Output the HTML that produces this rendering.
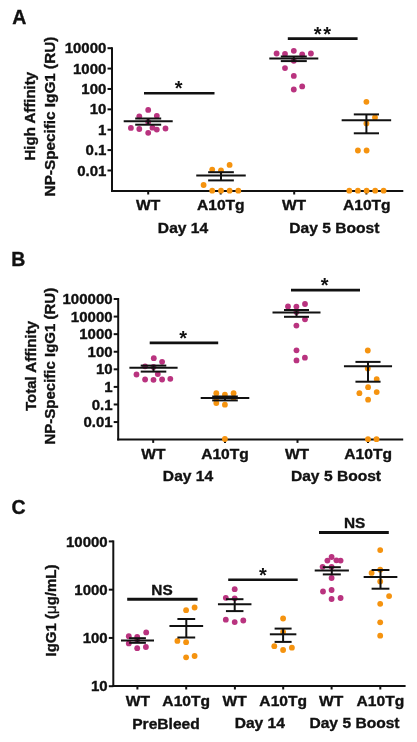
<!DOCTYPE html>
<html><head><meta charset="utf-8"><style>
html,body{margin:0;padding:0;background:#fff;width:417px;height:742px;overflow:hidden}
svg{display:block;will-change:transform}
text{font-family:"Liberation Sans",sans-serif;font-weight:bold;fill:#111;stroke:#111;stroke-width:0.35px}
</style></head><body>
<svg width="417" height="742" viewBox="0 0 417 742">
<text transform="translate(19.4,23.5) scale(1,1)" font-size="19.5" text-anchor="middle" >A</text>
<line x1="112" y1="47.2" x2="112" y2="192" stroke="#111" stroke-width="2"/>
<line x1="107.5" y1="48.2" x2="112" y2="48.2" stroke="#111" stroke-width="2"/>
<text transform="translate(106.4,53.300000000000004) scale(1.05,1)" font-size="14.3" text-anchor="end">10000</text>
<line x1="107.5" y1="68.58" x2="112" y2="68.58" stroke="#111" stroke-width="2"/>
<text transform="translate(106.4,73.67999999999999) scale(1.05,1)" font-size="14.3" text-anchor="end">1000</text>
<line x1="107.5" y1="88.96000000000001" x2="112" y2="88.96000000000001" stroke="#111" stroke-width="2"/>
<text transform="translate(106.4,94.06) scale(1.05,1)" font-size="14.3" text-anchor="end">100</text>
<line x1="107.5" y1="109.34" x2="112" y2="109.34" stroke="#111" stroke-width="2"/>
<text transform="translate(106.4,114.44) scale(1.05,1)" font-size="14.3" text-anchor="end">10</text>
<line x1="107.5" y1="129.72" x2="112" y2="129.72" stroke="#111" stroke-width="2"/>
<text transform="translate(106.4,134.82) scale(1.05,1)" font-size="14.3" text-anchor="end">1</text>
<line x1="107.5" y1="150.1" x2="112" y2="150.1" stroke="#111" stroke-width="2"/>
<text transform="translate(106.4,155.2) scale(1.05,1)" font-size="14.3" text-anchor="end">0.1</text>
<line x1="107.5" y1="170.48000000000002" x2="112" y2="170.48000000000002" stroke="#111" stroke-width="2"/>
<text transform="translate(106.4,175.58) scale(1.05,1)" font-size="14.3" text-anchor="end">0.01</text>
<line x1="111" y1="191" x2="403.3" y2="191" stroke="#111" stroke-width="2"/>
<line x1="148.2" y1="191" x2="148.2" y2="194.5" stroke="#111" stroke-width="2"/>
<line x1="220.7" y1="191" x2="220.7" y2="194.5" stroke="#111" stroke-width="2"/>
<line x1="294.2" y1="191" x2="294.2" y2="194.5" stroke="#111" stroke-width="2"/>
<line x1="366.4" y1="191" x2="366.4" y2="194.5" stroke="#111" stroke-width="2"/>
<text transform="translate(35,116.2) rotate(-90)" font-size="15" text-anchor="middle">High Affinity</text>
<text transform="translate(55,116.5) rotate(-90)" font-size="15.3" text-anchor="middle">NP-Specific IgG1 (RU)</text>
<text transform="translate(148.2,210) scale(1.04,1)" font-size="15" text-anchor="middle" >WT</text>
<text transform="translate(220.8,210) scale(1.04,1)" font-size="15" text-anchor="middle" >A10Tg</text>
<text transform="translate(294,210) scale(1.04,1)" font-size="15" text-anchor="middle" >WT</text>
<text transform="translate(366.8,210) scale(1.04,1)" font-size="15" text-anchor="middle" >A10Tg</text>
<text transform="translate(183,233) scale(1.04,1)" font-size="15" text-anchor="middle" >Day 14</text>
<text transform="translate(334.4,232.6) scale(1.04,1)" font-size="15" text-anchor="middle" >Day 5 Boost</text>
<circle cx="148.2" cy="109.9" r="2.9" fill="#b9337f"/>
<circle cx="139.3" cy="116.3" r="2.9" fill="#b9337f"/>
<circle cx="156.8" cy="115.8" r="2.9" fill="#b9337f"/>
<circle cx="130.9" cy="127.9" r="2.9" fill="#b9337f"/>
<circle cx="139.3" cy="129" r="2.9" fill="#b9337f"/>
<circle cx="148.2" cy="132.8" r="2.9" fill="#b9337f"/>
<circle cx="152.5" cy="127.7" r="2.9" fill="#b9337f"/>
<circle cx="156.8" cy="129.6" r="2.9" fill="#b9337f"/>
<circle cx="165.5" cy="128.5" r="2.9" fill="#b9337f"/>
<circle cx="148.2" cy="122" r="2.9" fill="#b9337f"/>
<line x1="123.69999999999999" y1="121.2" x2="172.7" y2="121.2" stroke="#111" stroke-width="2"/>
<line x1="135.2" y1="118.5" x2="161.2" y2="118.5" stroke="#111" stroke-width="2"/>
<line x1="135.2" y1="124.7" x2="161.2" y2="124.7" stroke="#111" stroke-width="2"/>
<line x1="148.2" y1="118.5" x2="148.2" y2="124.7" stroke="#111" stroke-width="2"/>
<circle cx="229.6" cy="164.9" r="2.9" fill="#f5930f"/>
<circle cx="212.2" cy="169.6" r="2.9" fill="#f5930f"/>
<circle cx="221" cy="170.5" r="2.9" fill="#f5930f"/>
<circle cx="203.6" cy="185" r="2.9" fill="#f5930f"/>
<circle cx="212.2" cy="190.7" r="2.9" fill="#f5930f"/>
<circle cx="221" cy="190.7" r="2.9" fill="#f5930f"/>
<circle cx="229.6" cy="190.7" r="2.9" fill="#f5930f"/>
<circle cx="238.3" cy="190.7" r="2.9" fill="#f5930f"/>
<line x1="196.25" y1="175.5" x2="245.75" y2="175.5" stroke="#111" stroke-width="2"/>
<line x1="208.15" y1="172.2" x2="233.85" y2="172.2" stroke="#111" stroke-width="2"/>
<line x1="208.15" y1="180.4" x2="233.85" y2="180.4" stroke="#111" stroke-width="2"/>
<line x1="221" y1="172.2" x2="221" y2="180.4" stroke="#111" stroke-width="2"/>
<circle cx="276.6" cy="53.5" r="2.9" fill="#b9337f"/>
<circle cx="285" cy="53.9" r="2.9" fill="#b9337f"/>
<circle cx="293.8" cy="50.8" r="2.9" fill="#b9337f"/>
<circle cx="302.2" cy="54.5" r="2.9" fill="#b9337f"/>
<circle cx="310.9" cy="53.5" r="2.9" fill="#b9337f"/>
<circle cx="293.8" cy="60.8" r="2.9" fill="#b9337f"/>
<circle cx="285" cy="68.1" r="2.9" fill="#b9337f"/>
<circle cx="293.8" cy="75.9" r="2.9" fill="#b9337f"/>
<circle cx="302.2" cy="86.4" r="2.9" fill="#b9337f"/>
<circle cx="293.8" cy="89.5" r="2.9" fill="#b9337f"/>
<line x1="269.3" y1="58.5" x2="318.3" y2="58.5" stroke="#111" stroke-width="2"/>
<line x1="280.8" y1="56.5" x2="306.8" y2="56.5" stroke="#111" stroke-width="2"/>
<line x1="280.8" y1="61.1" x2="306.8" y2="61.1" stroke="#111" stroke-width="2"/>
<line x1="293.8" y1="56.5" x2="293.8" y2="61.1" stroke="#111" stroke-width="2"/>
<circle cx="366.4" cy="101.8" r="2.9" fill="#f5930f"/>
<circle cx="375" cy="117.5" r="2.9" fill="#f5930f"/>
<circle cx="366.4" cy="123.4" r="2.9" fill="#f5930f"/>
<circle cx="357.9" cy="150.5" r="2.9" fill="#f5930f"/>
<circle cx="366.6" cy="150.5" r="2.9" fill="#f5930f"/>
<circle cx="349.3" cy="190.7" r="2.9" fill="#f5930f"/>
<circle cx="357.9" cy="190.7" r="2.9" fill="#f5930f"/>
<circle cx="366.6" cy="190.7" r="2.9" fill="#f5930f"/>
<circle cx="375.2" cy="190.7" r="2.9" fill="#f5930f"/>
<circle cx="383.6" cy="190.7" r="2.9" fill="#f5930f"/>
<line x1="341.65" y1="120.2" x2="391.15" y2="120.2" stroke="#111" stroke-width="2"/>
<line x1="353.79999999999995" y1="114.4" x2="379.0" y2="114.4" stroke="#111" stroke-width="2"/>
<line x1="353.79999999999995" y1="133.3" x2="379.0" y2="133.3" stroke="#111" stroke-width="2"/>
<line x1="366.4" y1="114.4" x2="366.4" y2="133.3" stroke="#111" stroke-width="2"/>
<line x1="144" y1="93.3" x2="214.5" y2="93.3" stroke="#111" stroke-width="2.6"/>
<text x="178.7" y="95.2" font-size="20" text-anchor="middle" style="stroke-width:0" letter-spacing="0" dx="0">*</text>
<line x1="287.8" y1="38.6" x2="357.6" y2="38.6" stroke="#111" stroke-width="2.6"/>
<text x="322.4" y="40.7" font-size="20" text-anchor="middle" style="stroke-width:0" letter-spacing="1.6" dx="0.8">**</text>
<text transform="translate(18.2,265.6) scale(1,1)" font-size="19.5" text-anchor="middle" >B</text>
<line x1="118.2" y1="298" x2="118.2" y2="440.4" stroke="#111" stroke-width="2"/>
<line x1="113.7" y1="299.0" x2="118.2" y2="299.0" stroke="#111" stroke-width="2"/>
<text transform="translate(112.60000000000001,304.1) scale(1.05,1)" font-size="14.3" text-anchor="end">100000</text>
<line x1="113.7" y1="316.58" x2="118.2" y2="316.58" stroke="#111" stroke-width="2"/>
<text transform="translate(112.60000000000001,321.68) scale(1.05,1)" font-size="14.3" text-anchor="end">10000</text>
<line x1="113.7" y1="334.15999999999997" x2="118.2" y2="334.15999999999997" stroke="#111" stroke-width="2"/>
<text transform="translate(112.60000000000001,339.26) scale(1.05,1)" font-size="14.3" text-anchor="end">1000</text>
<line x1="113.7" y1="351.74" x2="118.2" y2="351.74" stroke="#111" stroke-width="2"/>
<text transform="translate(112.60000000000001,356.84000000000003) scale(1.05,1)" font-size="14.3" text-anchor="end">100</text>
<line x1="113.7" y1="369.32" x2="118.2" y2="369.32" stroke="#111" stroke-width="2"/>
<text transform="translate(112.60000000000001,374.42) scale(1.05,1)" font-size="14.3" text-anchor="end">10</text>
<line x1="113.7" y1="386.9" x2="118.2" y2="386.9" stroke="#111" stroke-width="2"/>
<text transform="translate(112.60000000000001,392.0) scale(1.05,1)" font-size="14.3" text-anchor="end">1</text>
<line x1="113.7" y1="404.48" x2="118.2" y2="404.48" stroke="#111" stroke-width="2"/>
<text transform="translate(112.60000000000001,409.58000000000004) scale(1.05,1)" font-size="14.3" text-anchor="end">0.1</text>
<line x1="113.7" y1="422.06" x2="118.2" y2="422.06" stroke="#111" stroke-width="2"/>
<text transform="translate(112.60000000000001,427.16) scale(1.05,1)" font-size="14.3" text-anchor="end">0.01</text>
<line x1="117.2" y1="439.4" x2="403.2" y2="439.4" stroke="#111" stroke-width="2"/>
<line x1="153.2" y1="439.4" x2="153.2" y2="442.9" stroke="#111" stroke-width="2"/>
<line x1="225" y1="439.4" x2="225" y2="442.9" stroke="#111" stroke-width="2"/>
<line x1="297.5" y1="439.4" x2="297.5" y2="442.9" stroke="#111" stroke-width="2"/>
<line x1="368" y1="439.4" x2="368" y2="442.9" stroke="#111" stroke-width="2"/>
<text transform="translate(35.5,366) rotate(-90)" font-size="15" text-anchor="middle">Total Affinity</text>
<text transform="translate(54.8,366.2) rotate(-90)" font-size="15" text-anchor="middle">NP-Specific IgG1 (RU)</text>
<text transform="translate(153.3,458.5) scale(1.04,1)" font-size="15" text-anchor="middle" >WT</text>
<text transform="translate(225,458.5) scale(1.04,1)" font-size="15" text-anchor="middle" >A10Tg</text>
<text transform="translate(297,458.5) scale(1.04,1)" font-size="15" text-anchor="middle" >WT</text>
<text transform="translate(368.1,458.5) scale(1.04,1)" font-size="15" text-anchor="middle" >A10Tg</text>
<text transform="translate(188,480.5) scale(1.04,1)" font-size="15" text-anchor="middle" >Day 14</text>
<text transform="translate(336,481) scale(1.04,1)" font-size="15" text-anchor="middle" >Day 5 Boost</text>
<circle cx="153.8" cy="358.2" r="2.9" fill="#b9337f"/>
<circle cx="162.1" cy="361.8" r="2.9" fill="#b9337f"/>
<circle cx="145.1" cy="366.3" r="2.9" fill="#b9337f"/>
<circle cx="136.5" cy="374.5" r="2.9" fill="#b9337f"/>
<circle cx="157.8" cy="374.1" r="2.9" fill="#b9337f"/>
<circle cx="145.1" cy="379.5" r="2.9" fill="#b9337f"/>
<circle cx="153.5" cy="379.8" r="2.9" fill="#b9337f"/>
<circle cx="162.1" cy="379.5" r="2.9" fill="#b9337f"/>
<circle cx="170.3" cy="378.8" r="2.9" fill="#b9337f"/>
<circle cx="153.5" cy="367" r="2.9" fill="#b9337f"/>
<line x1="129.4" y1="367.7" x2="177.6" y2="367.7" stroke="#111" stroke-width="2"/>
<line x1="140.7" y1="365.6" x2="166.3" y2="365.6" stroke="#111" stroke-width="2"/>
<line x1="140.7" y1="371.6" x2="166.3" y2="371.6" stroke="#111" stroke-width="2"/>
<line x1="153.5" y1="365.6" x2="153.5" y2="371.6" stroke="#111" stroke-width="2"/>
<circle cx="216.3" cy="393.2" r="2.9" fill="#f5930f"/>
<circle cx="224.9" cy="394.7" r="2.9" fill="#f5930f"/>
<circle cx="233.6" cy="393.2" r="2.9" fill="#f5930f"/>
<circle cx="216.3" cy="403" r="2.9" fill="#f5930f"/>
<circle cx="224.9" cy="404.7" r="2.9" fill="#f5930f"/>
<circle cx="216.3" cy="398" r="2.9" fill="#f5930f"/>
<circle cx="233.6" cy="398" r="2.9" fill="#f5930f"/>
<circle cx="224.9" cy="439" r="2.9" fill="#f5930f"/>
<line x1="200.7" y1="398" x2="249.3" y2="398" stroke="#111" stroke-width="2"/>
<line x1="212.2" y1="396.5" x2="237.8" y2="396.5" stroke="#111" stroke-width="2"/>
<line x1="212.2" y1="400.4" x2="237.8" y2="400.4" stroke="#111" stroke-width="2"/>
<line x1="225" y1="396.5" x2="225" y2="400.4" stroke="#111" stroke-width="2"/>
<circle cx="288" cy="306.4" r="2.9" fill="#b9337f"/>
<circle cx="296.4" cy="306.6" r="2.9" fill="#b9337f"/>
<circle cx="305" cy="304" r="2.9" fill="#b9337f"/>
<circle cx="305" cy="319.3" r="2.9" fill="#b9337f"/>
<circle cx="296.4" cy="325.6" r="2.9" fill="#b9337f"/>
<circle cx="296.5" cy="350.3" r="2.9" fill="#b9337f"/>
<circle cx="296.5" cy="360.4" r="2.9" fill="#b9337f"/>
<circle cx="304.9" cy="357.7" r="2.9" fill="#b9337f"/>
<circle cx="296.4" cy="312" r="2.9" fill="#b9337f"/>
<line x1="272.5" y1="312.5" x2="320.5" y2="312.5" stroke="#111" stroke-width="2"/>
<line x1="284.0" y1="310" x2="309.0" y2="310" stroke="#111" stroke-width="2"/>
<line x1="284.0" y1="316.8" x2="309.0" y2="316.8" stroke="#111" stroke-width="2"/>
<line x1="296.5" y1="310" x2="296.5" y2="316.8" stroke="#111" stroke-width="2"/>
<circle cx="367.8" cy="350.5" r="2.9" fill="#f5930f"/>
<circle cx="367.8" cy="368.5" r="2.9" fill="#f5930f"/>
<circle cx="376.7" cy="379.1" r="2.9" fill="#f5930f"/>
<circle cx="368.1" cy="387.2" r="2.9" fill="#f5930f"/>
<circle cx="359.4" cy="393.2" r="2.9" fill="#f5930f"/>
<circle cx="376.7" cy="392.1" r="2.9" fill="#f5930f"/>
<circle cx="368.1" cy="399.7" r="2.9" fill="#f5930f"/>
<circle cx="368" cy="439.2" r="2.9" fill="#f5930f"/>
<circle cx="376.5" cy="439.2" r="2.9" fill="#f5930f"/>
<line x1="343.95" y1="366.2" x2="392.05" y2="366.2" stroke="#111" stroke-width="2"/>
<line x1="355.45" y1="361.9" x2="380.55" y2="361.9" stroke="#111" stroke-width="2"/>
<line x1="355.45" y1="381.7" x2="380.55" y2="381.7" stroke="#111" stroke-width="2"/>
<line x1="368" y1="361.9" x2="368" y2="381.7" stroke="#111" stroke-width="2"/>
<line x1="149.7" y1="342.9" x2="218.2" y2="342.9" stroke="#111" stroke-width="2.6"/>
<text x="183.2" y="344.8" font-size="20" text-anchor="middle" style="stroke-width:0" letter-spacing="0" dx="0">*</text>
<line x1="291" y1="290.1" x2="360" y2="290.1" stroke="#111" stroke-width="2.6"/>
<text x="324.6" y="292.2" font-size="20" text-anchor="middle" style="stroke-width:0" letter-spacing="0" dx="0">*</text>
<text transform="translate(18.6,513.7) scale(1,1)" font-size="19.5" text-anchor="middle" >C</text>
<line x1="113.3" y1="540.4" x2="113.3" y2="687" stroke="#111" stroke-width="2"/>
<line x1="108.8" y1="541.4" x2="113.3" y2="541.4" stroke="#111" stroke-width="2"/>
<text transform="translate(107.7,546.5) scale(1.05,1)" font-size="14.3" text-anchor="end">10000</text>
<line x1="108.8" y1="589.67" x2="113.3" y2="589.67" stroke="#111" stroke-width="2"/>
<text transform="translate(107.7,594.77) scale(1.05,1)" font-size="14.3" text-anchor="end">1000</text>
<line x1="108.8" y1="637.9399999999999" x2="113.3" y2="637.9399999999999" stroke="#111" stroke-width="2"/>
<text transform="translate(107.7,643.04) scale(1.05,1)" font-size="14.3" text-anchor="end">100</text>
<line x1="108.8" y1="686.21" x2="113.3" y2="686.21" stroke="#111" stroke-width="2"/>
<text transform="translate(107.7,691.3100000000001) scale(1.05,1)" font-size="14.3" text-anchor="end">10</text>
<line x1="112.3" y1="686" x2="405.6" y2="686" stroke="#111" stroke-width="2"/>
<line x1="137.4" y1="686" x2="137.4" y2="689.5" stroke="#111" stroke-width="2"/>
<line x1="186.2" y1="686" x2="186.2" y2="689.5" stroke="#111" stroke-width="2"/>
<line x1="234.9" y1="686" x2="234.9" y2="689.5" stroke="#111" stroke-width="2"/>
<line x1="283.2" y1="686" x2="283.2" y2="689.5" stroke="#111" stroke-width="2"/>
<line x1="331.6" y1="686" x2="331.6" y2="689.5" stroke="#111" stroke-width="2"/>
<line x1="380.3" y1="686" x2="380.3" y2="689.5" stroke="#111" stroke-width="2"/>
<text transform="translate(56.3,610.5) rotate(-90)" font-size="15" text-anchor="middle">IgG1 (<tspan font-weight="normal">μ</tspan>g/mL)</text>
<text transform="translate(137.8,705.8) scale(1.04,1)" font-size="15" text-anchor="middle" >WT</text>
<text transform="translate(186.2,705.8) scale(1.04,1)" font-size="15" text-anchor="middle" >A10Tg</text>
<text transform="translate(234.7,705.8) scale(1.04,1)" font-size="15" text-anchor="middle" >WT</text>
<text transform="translate(283.2,705.8) scale(1.04,1)" font-size="15" text-anchor="middle" >A10Tg</text>
<text transform="translate(331.2,705.8) scale(1.04,1)" font-size="15" text-anchor="middle" >WT</text>
<text transform="translate(380.4,705.8) scale(1.04,1)" font-size="15" text-anchor="middle" >A10Tg</text>
<text transform="translate(166,728.6) scale(1.04,1)" font-size="15" text-anchor="middle" >PreBleed</text>
<text transform="translate(259.8,728.2) scale(1.04,1)" font-size="15" text-anchor="middle" >Day 14</text>
<text transform="translate(354.5,728.2) scale(1.04,1)" font-size="15" text-anchor="middle" >Day 5 Boost</text>
<circle cx="146.2" cy="632.4" r="2.9" fill="#b9337f"/>
<circle cx="128.8" cy="636.2" r="2.9" fill="#b9337f"/>
<circle cx="137.2" cy="636.8" r="2.9" fill="#b9337f"/>
<circle cx="128.8" cy="643.4" r="2.9" fill="#b9337f"/>
<circle cx="137.2" cy="648.2" r="2.9" fill="#b9337f"/>
<circle cx="145.9" cy="647" r="2.9" fill="#b9337f"/>
<circle cx="137.3" cy="640" r="2.9" fill="#b9337f"/>
<line x1="121.0" y1="640.4" x2="154.0" y2="640.4" stroke="#111" stroke-width="2"/>
<line x1="129.1" y1="638.2" x2="145.9" y2="638.2" stroke="#111" stroke-width="2"/>
<line x1="129.1" y1="642.8" x2="145.9" y2="642.8" stroke="#111" stroke-width="2"/>
<line x1="137.5" y1="638.2" x2="137.5" y2="642.8" stroke="#111" stroke-width="2"/>
<circle cx="186.1" cy="610.2" r="2.9" fill="#f5930f"/>
<circle cx="194.6" cy="607.5" r="2.9" fill="#f5930f"/>
<circle cx="177.4" cy="640.9" r="2.9" fill="#f5930f"/>
<circle cx="186.1" cy="642.2" r="2.9" fill="#f5930f"/>
<circle cx="186.1" cy="657.3" r="2.9" fill="#f5930f"/>
<circle cx="194.6" cy="656" r="2.9" fill="#f5930f"/>
<line x1="169.45000000000002" y1="626" x2="203.15" y2="626" stroke="#111" stroke-width="2"/>
<line x1="177.4" y1="619" x2="195.20000000000002" y2="619" stroke="#111" stroke-width="2"/>
<line x1="177.4" y1="637.5" x2="195.20000000000002" y2="637.5" stroke="#111" stroke-width="2"/>
<line x1="186.3" y1="619" x2="186.3" y2="637.5" stroke="#111" stroke-width="2"/>
<circle cx="234.7" cy="589.2" r="2.9" fill="#b9337f"/>
<circle cx="225.8" cy="597.8" r="2.9" fill="#b9337f"/>
<circle cx="234.7" cy="598.3" r="2.9" fill="#b9337f"/>
<circle cx="225.8" cy="619.7" r="2.9" fill="#b9337f"/>
<circle cx="234.7" cy="622.1" r="2.9" fill="#b9337f"/>
<circle cx="243.3" cy="620.5" r="2.9" fill="#b9337f"/>
<line x1="217.95" y1="604.3" x2="251.45" y2="604.3" stroke="#111" stroke-width="2"/>
<line x1="225.95" y1="599.2" x2="243.45" y2="599.2" stroke="#111" stroke-width="2"/>
<line x1="225.95" y1="611.1" x2="243.45" y2="611.1" stroke="#111" stroke-width="2"/>
<line x1="234.7" y1="599.2" x2="234.7" y2="611.1" stroke="#111" stroke-width="2"/>
<circle cx="283.1" cy="618.5" r="2.9" fill="#f5930f"/>
<circle cx="274.3" cy="646.2" r="2.9" fill="#f5930f"/>
<circle cx="283.1" cy="650" r="2.9" fill="#f5930f"/>
<circle cx="291.9" cy="647.7" r="2.9" fill="#f5930f"/>
<circle cx="283.1" cy="632" r="2.9" fill="#f5930f"/>
<line x1="269.85" y1="634.3" x2="296.35" y2="634.3" stroke="#111" stroke-width="2"/>
<line x1="274.6" y1="628.6" x2="291.6" y2="628.6" stroke="#111" stroke-width="2"/>
<line x1="274.6" y1="641.9" x2="291.6" y2="641.9" stroke="#111" stroke-width="2"/>
<line x1="283.1" y1="628.6" x2="283.1" y2="641.9" stroke="#111" stroke-width="2"/>
<circle cx="331.6" cy="557" r="2.9" fill="#b9337f"/>
<circle cx="327.4" cy="560.6" r="2.9" fill="#b9337f"/>
<circle cx="336.4" cy="560.3" r="2.9" fill="#b9337f"/>
<circle cx="340.6" cy="560.6" r="2.9" fill="#b9337f"/>
<circle cx="322.6" cy="566.8" r="2.9" fill="#b9337f"/>
<circle cx="331.6" cy="566.8" r="2.9" fill="#b9337f"/>
<circle cx="331.6" cy="578" r="2.9" fill="#b9337f"/>
<circle cx="323" cy="591.5" r="2.9" fill="#b9337f"/>
<circle cx="331.6" cy="590" r="2.9" fill="#b9337f"/>
<circle cx="331.6" cy="599" r="2.9" fill="#b9337f"/>
<circle cx="340.6" cy="598" r="2.9" fill="#b9337f"/>
<line x1="314.7" y1="570.4" x2="348.90000000000003" y2="570.4" stroke="#111" stroke-width="2"/>
<line x1="322.8" y1="567.2" x2="340.8" y2="567.2" stroke="#111" stroke-width="2"/>
<line x1="322.8" y1="574.4" x2="340.8" y2="574.4" stroke="#111" stroke-width="2"/>
<line x1="331.8" y1="567.2" x2="331.8" y2="574.4" stroke="#111" stroke-width="2"/>
<circle cx="380.2" cy="550.1" r="2.9" fill="#f5930f"/>
<circle cx="371.6" cy="572.9" r="2.9" fill="#f5930f"/>
<circle cx="380.2" cy="569.7" r="2.9" fill="#f5930f"/>
<circle cx="380.2" cy="581.5" r="2.9" fill="#f5930f"/>
<circle cx="389.1" cy="596.1" r="2.9" fill="#f5930f"/>
<circle cx="380.2" cy="603.8" r="2.9" fill="#f5930f"/>
<circle cx="380.2" cy="622.3" r="2.9" fill="#f5930f"/>
<circle cx="380.2" cy="635.7" r="2.9" fill="#f5930f"/>
<line x1="363.65" y1="577.1" x2="397.35" y2="577.1" stroke="#111" stroke-width="2"/>
<line x1="371.6" y1="570" x2="389.4" y2="570" stroke="#111" stroke-width="2"/>
<line x1="371.6" y1="588.7" x2="389.4" y2="588.7" stroke="#111" stroke-width="2"/>
<line x1="380.5" y1="570" x2="380.5" y2="588.7" stroke="#111" stroke-width="2"/>
<line x1="127.2" y1="599.2" x2="197.6" y2="599.2" stroke="#111" stroke-width="3"/>
<text transform="translate(162,595.2) scale(1.04,1)" font-size="14.8" text-anchor="middle" >NS</text>
<line x1="228.2" y1="579.7" x2="297.7" y2="579.7" stroke="#111" stroke-width="2.6"/>
<text x="262.9" y="581.7" font-size="20" text-anchor="middle" style="stroke-width:0" letter-spacing="0" dx="0">*</text>
<line x1="319" y1="532.6" x2="388.8" y2="532.6" stroke="#111" stroke-width="3"/>
<text transform="translate(354.6,528.3) scale(1.04,1)" font-size="14.8" text-anchor="middle" >NS</text>
</svg>
</body></html>
